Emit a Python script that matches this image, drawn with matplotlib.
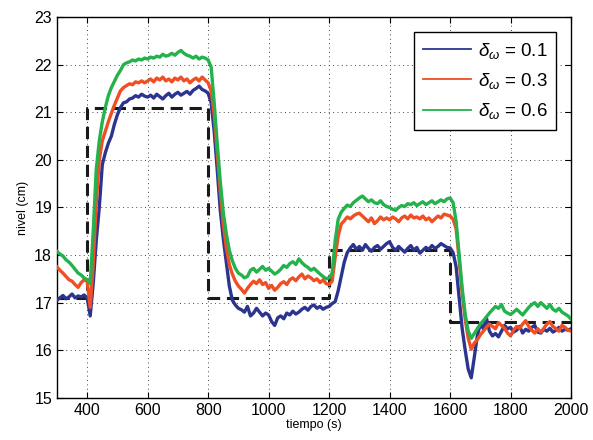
import numpy as np
import matplotlib
matplotlib.use('Agg')
import matplotlib.pyplot as plt

plt.rcParams['font.family'] = ['Liberation Sans', 'DejaVu Sans']
plt.rcParams['mathtext.fontset'] = 'custom'
plt.rcParams['mathtext.rm'] = 'Liberation Sans'
plt.rcParams['mathtext.it'] = 'Liberation Sans:italic'

# time grid (s), one sample every 10 s
t = np.arange(300, 2001, 10)

# reference level (cm), step changes
ref_t = [300, 400, 800, 1200, 1600, 2000]
ref_v = [17.1, 21.1, 17.1, 18.1, 16.6, 16.6]

# delta_w = 0.1
nivel_01 = [
    17.05, 17.10, 17.15, 17.08, 17.12, 17.18, 17.10, 17.14, 17.12, 17.16,
    17.10, 16.72, 17.40, 18.30, 19.00, 19.90, 20.15, 20.35, 20.50, 20.75,
    20.95, 21.10, 21.20, 21.22, 21.28, 21.30, 21.35, 21.32, 21.38, 21.34,
    21.32, 21.36, 21.30, 21.38, 21.33, 21.28, 21.35, 21.40, 21.32, 21.38,
    21.42, 21.36, 21.40, 21.44, 21.38, 21.46, 21.50, 21.55, 21.48, 21.45,
    21.40, 21.20, 20.60, 19.80, 18.95, 18.35, 17.85, 17.35, 17.05, 16.95,
    16.88, 16.85, 16.80, 16.92, 16.72, 16.78, 16.88, 16.80, 16.72, 16.78,
    16.74, 16.60, 16.52, 16.68, 16.72, 16.66, 16.78, 16.74, 16.82, 16.76,
    16.80, 16.86, 16.90, 16.84, 16.92, 16.95, 16.88, 16.92, 16.86, 16.90,
    16.92, 16.98, 17.02, 17.25, 17.55, 17.85, 18.05, 18.15, 18.22, 18.12,
    18.18, 18.10, 18.22, 18.14, 18.08, 18.16, 18.20, 18.12, 18.18, 18.24,
    18.28, 18.16, 18.10, 18.18, 18.12, 18.06, 18.14, 18.20, 18.10, 18.16,
    18.04, 18.10, 18.16, 18.12, 18.20, 18.14, 18.18, 18.24, 18.20, 18.16,
    18.15, 18.05, 17.75, 17.10, 16.45, 16.00, 15.60, 15.42, 15.85, 16.30,
    16.55, 16.45, 16.68, 16.40, 16.30, 16.35, 16.28, 16.40, 16.52, 16.45,
    16.48, 16.38, 16.42, 16.50, 16.36, 16.44, 16.40, 16.48, 16.52, 16.38,
    16.36, 16.44, 16.40, 16.46, 16.38, 16.42, 16.48, 16.40, 16.44, 16.42,
    16.45,
]

# delta_w = 0.3
nivel_03 = [
    17.75, 17.68, 17.62, 17.55, 17.48, 17.45, 17.38, 17.32, 17.42, 17.48,
    17.45, 16.90, 17.80, 19.10, 20.00, 20.40, 20.60, 20.80, 20.98, 21.15,
    21.30, 21.45, 21.52, 21.56, 21.60, 21.58, 21.64, 21.62, 21.66, 21.62,
    21.66, 21.70, 21.64, 21.72, 21.68, 21.74, 21.66, 21.70, 21.64, 21.72,
    21.68, 21.74, 21.66, 21.70, 21.62, 21.68, 21.72, 21.66, 21.74, 21.68,
    21.62, 21.45, 20.95, 20.15, 19.35, 18.65, 18.15, 17.80, 17.60, 17.45,
    17.35, 17.28, 17.20, 17.30, 17.38, 17.45, 17.40, 17.48, 17.38, 17.42,
    17.30, 17.36, 17.26, 17.32, 17.40, 17.44, 17.38, 17.48, 17.52, 17.46,
    17.54, 17.60, 17.50, 17.56, 17.52, 17.46, 17.50, 17.42, 17.48, 17.40,
    17.38, 17.45, 17.95, 18.40, 18.65, 18.72, 18.80, 18.76, 18.82, 18.86,
    18.88, 18.82, 18.76, 18.70, 18.78, 18.66, 18.72, 18.80, 18.74, 18.78,
    18.74, 18.80, 18.76, 18.70, 18.78, 18.82, 18.76, 18.84, 18.78, 18.80,
    18.76, 18.82, 18.74, 18.78, 18.70, 18.76, 18.82, 18.78, 18.86, 18.84,
    18.82, 18.75, 18.55, 17.90, 17.20, 16.65, 16.25, 16.02, 16.15, 16.22,
    16.32, 16.40, 16.48, 16.55, 16.50, 16.45, 16.58, 16.52, 16.46, 16.36,
    16.30, 16.42, 16.50, 16.46, 16.55, 16.62, 16.50, 16.42, 16.36, 16.45,
    16.38, 16.46, 16.55, 16.60, 16.50, 16.45, 16.40, 16.52, 16.48, 16.42,
    16.40,
]

# delta_w = 0.6
nivel_06 = [
    18.08, 18.02, 17.98, 17.90, 17.85, 17.78, 17.70, 17.62, 17.58, 17.52,
    17.48, 17.40, 18.50, 19.80, 20.40, 20.80, 21.10, 21.35, 21.52, 21.65,
    21.78, 21.88, 22.00, 22.04, 22.06, 22.10, 22.08, 22.12, 22.10, 22.14,
    22.12, 22.16, 22.14, 22.18, 22.16, 22.22, 22.18, 22.20, 22.24, 22.20,
    22.26, 22.30, 22.24, 22.20, 22.18, 22.14, 22.18, 22.12, 22.16, 22.14,
    22.10, 21.95, 21.20, 20.35, 19.55, 18.90, 18.45, 18.10, 17.88, 17.72,
    17.62, 17.58, 17.52, 17.55, 17.68, 17.72, 17.64, 17.70, 17.76, 17.68,
    17.72, 17.66, 17.60, 17.64, 17.70, 17.78, 17.74, 17.82, 17.86, 17.80,
    17.92, 17.84, 17.78, 17.74, 17.68, 17.72, 17.66, 17.60, 17.55, 17.50,
    17.52, 17.62, 18.30, 18.75, 18.90, 18.98, 19.05, 19.02, 19.10, 19.15,
    19.20, 19.24, 19.18, 19.12, 19.16, 19.10, 19.08, 19.14, 19.06, 19.02,
    19.00, 18.96, 18.94, 19.00, 19.04, 19.02, 19.08, 19.06, 19.10, 19.04,
    19.08, 19.12, 19.06, 19.10, 19.14, 19.08, 19.12, 19.16, 19.12, 19.18,
    19.20, 19.10, 18.70, 18.00, 17.30, 16.75, 16.40, 16.25, 16.35, 16.45,
    16.55, 16.62, 16.70, 16.78, 16.85, 16.92, 16.88, 16.96, 16.82, 16.78,
    16.75, 16.80, 16.86, 16.80, 16.74, 16.82, 16.90, 16.96, 17.00, 16.92,
    17.00, 16.94, 16.88, 16.96, 16.86, 16.82, 16.88, 16.80, 16.76, 16.72,
    16.65,
]

labels = [r'$\delta_\omega$ = 0.1', r'$\delta_\omega$ = 0.3', r'$\delta_\omega$ = 0.6']
colors = ['#2B3590', '#F04E23', '#23B24B']

fig = plt.figure(figsize=(5.93, 4.40), dpi=100)
ax = fig.add_axes([0.096, 0.096, 0.867, 0.865])

ax.step(ref_t, ref_v, where='post', color='#1a1a1a', lw=2.2,
        dashes=(4.0, 2.2), zorder=2)
for y, c, lab in zip([nivel_01, nivel_03, nivel_06], colors, labels):
    ax.plot(t, y, color=c, lw=2.4, label=lab, zorder=3)

ax.set_xlim(300, 2000)
ax.set_ylim(15, 23)
ax.set_xticks(range(400, 2001, 200))
ax.set_yticks(range(15, 24))
ax.tick_params(direction='in', top=True, right=True, labelsize=11.5, length=4)
ax.grid(True, color='#444444', linestyle=(0, (1, 3.5)), lw=0.7)
for s in ax.spines.values():
    s.set_linewidth(1.0)

ax.set_xlabel('tiempo (s)', fontsize=9, labelpad=1)
ax.set_ylabel('nivel (cm)', fontsize=9, labelpad=4)

leg = ax.legend(loc='upper right', fontsize=13.5, handlelength=2.6,
                handletextpad=0.35, fancybox=False, edgecolor='black',
                framealpha=1, borderaxespad=0.8, labelspacing=0.55,
                borderpad=0.45)
leg.get_frame().set_linewidth(1.0)
for h in leg.get_lines():
    h.set_linewidth(1.3)

plt.savefig('out.png', dpi=100)
